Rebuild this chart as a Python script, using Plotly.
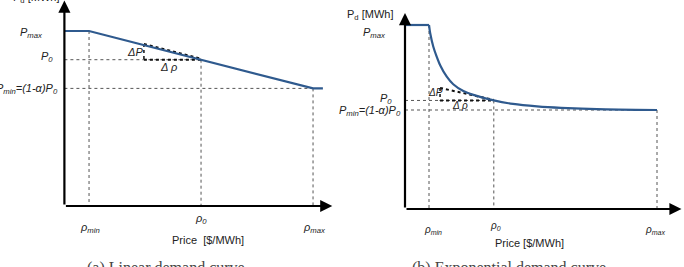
import plotly.graph_objects as go

W, H = 684, 267

# ---------------- data: (a) linear demand curve ----------------
rho_lin = [0, 11, 111, 115.4]
p_lin = [100, 100, 67.2, 67.2]
lin_rho_min, lin_rho0, lin_rho_max = 11, 61, 111
lin_pmax, lin_p0, lin_pmin = 100, 83.6, 67.2
lin_dp_rho = 35.5          # start of the ΔP / Δρ triangle
lin_dp_top = 92.6

# ---------------- data: (b) exponential demand curve ----------------
rho_flat = [0, 10]
p_flat = [100, 100]
rho_exp = [10, 10.5, 11.8, 13.2, 14.6, 17.4, 20.1, 24.3, 28.5, 37, 45, 55, 65, 80, 105]
p_exp = [100, 95.5, 88.2, 82.8, 78.3, 71.9, 67.8, 64.1, 62.0, 59, 57.1, 55.8, 55.0, 54.3, 53.8]
exp_rho_min, exp_rho0, exp_rho_max = 10, 37, 105
exp_pmax, exp_p0, exp_pmin = 100, 59, 53.8
exp_dp_rho = 14.6
exp_dp_top = 65.8

BLUE = "#2F5A8E"
REF = "#555555"
FONT = "Liberation Sans"

fig = go.Figure()

def ref(xs, ys, xa, ya, width=1, dash="dot", color=REF):
    fig.add_trace(go.Scatter(x=xs, y=ys, mode="lines", xaxis=xa, yaxis=ya,
                             line=dict(color=color, width=width, dash=dash),
                             hoverinfo="skip", showlegend=False))

# ---- panel (a) reference lines
ref([lin_rho_min, lin_rho_min], [lin_pmax, 0], "x", "y")
ref([0, lin_rho0], [lin_p0, lin_p0], "x", "y")
ref([lin_rho0, lin_rho0], [lin_p0, 0], "x", "y")
ref([0, lin_rho_max], [lin_pmin, lin_pmin], "x", "y")
ref([lin_rho_max, lin_rho_max], [lin_pmin, 0], "x", "y")
# triangle
ref([lin_dp_rho, lin_dp_rho], [lin_dp_top, lin_p0], "x", "y", width=1.5, color="#111")
ref([lin_dp_rho, lin_rho0], [lin_p0, lin_p0], "x", "y", width=2, color="#111")
ref([lin_dp_rho, lin_rho0], [lin_dp_top, lin_p0 + 0.6], "x", "y", width=2, color="#111")
fig.add_trace(go.Scatter(x=rho_lin, y=p_lin, mode="lines", xaxis="x", yaxis="y",
                         line=dict(color=BLUE, width=2.2), hoverinfo="skip", showlegend=False))

# ---- panel (b) reference lines
ref([exp_rho_min, exp_rho_min], [exp_pmax, 0], "x2", "y2")
ref([0, exp_rho0], [exp_p0, exp_p0], "x2", "y2")
ref([exp_rho0, exp_rho0], [exp_p0, 0], "x2", "y2")
ref([0, exp_rho_max], [exp_pmin, exp_pmin], "x2", "y2")
ref([exp_rho_max, exp_rho_max], [exp_pmin, 0], "x2", "y2")
ref([exp_dp_rho, exp_dp_rho], [exp_dp_top, exp_p0], "x2", "y2", width=1.5, color="#111")
ref([exp_dp_rho, exp_rho0], [exp_p0, exp_p0], "x2", "y2", width=2, color="#111")
ref([exp_dp_rho, exp_rho0], [exp_dp_top, exp_p0 + 0.3], "x2", "y2", width=2, color="#111")
fig.add_trace(go.Scatter(x=rho_flat, y=p_flat, mode="lines", xaxis="x2", yaxis="y2",
                         line=dict(color=BLUE, width=2.2), hoverinfo="skip", showlegend=False))
fig.add_trace(go.Scatter(x=rho_exp, y=p_exp, mode="lines", xaxis="x2", yaxis="y2",
                         line=dict(color=BLUE, width=2.2, shape="spline", smoothing=0.8),
                         hoverinfo="skip", showlegend=False))

# ---- axes geometry (pixel based)
def dom_x(a, b):
    return [a / W, b / W]

def dom_y(bottom_px):
    return [(H - bottom_px) / H, 1]

ax_common = dict(visible=False, fixedrange=True)
fig.update_layout(
    width=W, height=H, margin=dict(l=0, r=0, t=0, b=0),
    plot_bgcolor="white", paper_bgcolor="white", showlegend=False,
    xaxis=dict(domain=dom_x(64.4, 333.2), range=[0, 120], **ax_common),
    yaxis=dict(domain=dom_y(206), range=[0, 206 / 1.75], **ax_common),
    xaxis2=dict(domain=dom_x(405, 682), range=[0, 277 / 2.4], **ax_common),
    yaxis2=dict(domain=dom_y(209), range=[0, 209 / 1.84], **ax_common),
)

ann = []
# axis arrows
def arrow(x, y, xr, yr):
    ann.append(dict(x=x, y=y, ax=0, ay=0, xref=xr, yref=yr, axref=xr, ayref=yr,
                    showarrow=True, arrowhead=2, arrowsize=1.1, arrowwidth=2.2,
                    arrowcolor="black", text=""))

arrow(119.6, 0, "x", "y")
arrow(0, 117.4, "x", "y")
arrow(115.2, 0, "x2", "y2")
arrow(0, 106.5, "x2", "y2")

def txt(text, x, y, size=11, xanchor="center", italic=False, font=FONT, color="#222"):
    t = f"<i>{text}</i>" if italic else text
    ann.append(dict(text=t, x=x / W, y=1 - y / H, xref="paper", yref="paper",
                    showarrow=False, xanchor=xanchor, yanchor="middle",
                    font=dict(family=font, size=size, color=color)))

# panel (a) labels
txt("P<sub>d</sub> [MWh]", 61, -2, xanchor="right")
txt("P<sub>max</sub>", 45, 33, xanchor="right", italic=True)
txt("P<sub>0</sub>", 55, 57, xanchor="right", italic=True)
txt("P<sub>min</sub>=(1-α)P<sub>0</sub>", 60, 89, xanchor="right", italic=True)
txt("ΔP", 135, 52, italic=True)
txt("Δ ρ", 168, 67, italic=True)
txt("ρ<sub>min</sub>", 90, 228, italic=True)
txt("ρ<sub>0</sub>", 201, 219, italic=True)
txt("ρ<sub>max</sub>", 314, 228, italic=True)
txt("Price  [$/MWh]", 208, 240)
txt("(a) Linear demand curve", 166, 268, size=16, font="Liberation Serif", color="#444")

# panel (b) labels
txt("P<sub>d</sub> [MWh]", 370, 15)
txt("P<sub>max</sub>", 388, 33, xanchor="right", italic=True)
txt("P<sub>0</sub>", 394, 99, xanchor="right", italic=True)
txt("P<sub>min</sub>=(1-α)P<sub>0</sub>", 403, 111, xanchor="right", italic=True)
txt("ΔP", 435, 93, size=10, italic=True)
txt("Δ ρ", 460, 105, size=10, italic=True)
txt("ρ<sub>min</sub>", 433, 230, size=10, italic=True)
txt("ρ<sub>0</sub>", 495, 226, size=10, italic=True)
txt("ρ<sub>max</sub>", 655, 230, size=10, italic=True)
txt("Price [$/MWh]", 529, 243)
txt("(b) Exponential demand curve", 509, 268, size=16, font="Liberation Serif", color="#444")

fig.update_layout(annotations=ann)
fig.write_html("out.html")
